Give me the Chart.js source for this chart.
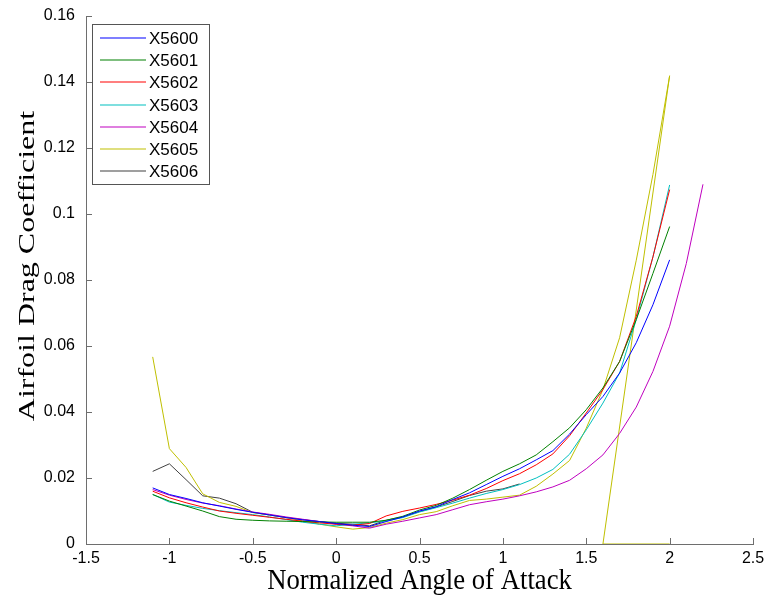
<!DOCTYPE html>
<html>
<head>
<meta charset="utf-8">
<script src="https://cdn.jsdelivr.net/npm/chart.js@4"></script>
<style>
  html, body { margin: 0; padding: 0; background: #fff; }
  canvas { display: block; }
</style>
</head>
<body>
<canvas id="dragChart" width="772" height="601"></canvas>
<script>
// normalized angle of attack, sampled every 0.1
const angle = [
    -1.1, -1.0, -0.9, -0.8, -0.7, -0.6, -0.5, -0.4, -0.3, -0.2, -0.1,
    0.0, 0.1, 0.2, 0.3, 0.4, 0.5, 0.6, 0.7, 0.8, 0.9, 1.0,
    1.1, 1.2, 1.3, 1.4, 1.5, 1.6, 1.7, 1.8, 1.9, 2.0, 2.1, 2.2
];

// drag coefficient per airfoil
const x5600 = [0.0170, 0.0150, 0.0138, 0.0125, 0.0115, 0.0105, 0.0096, 0.0088, 0.0080, 0.0073, 0.0068,
    0.0062, 0.0057, 0.0053, 0.0068, 0.0082, 0.0100, 0.0113, 0.0135, 0.0155, 0.0180, 0.0205,
    0.0228, 0.0255, 0.0283, 0.0333, 0.0392, 0.0447, 0.0518, 0.0610, 0.0725, 0.0861];
const x5601 = [0.0150, 0.0130, 0.0115, 0.0100, 0.0083, 0.0075, 0.0072, 0.0070, 0.0069, 0.0068, 0.0067,
    0.0066, 0.0066, 0.0066, 0.0072, 0.0084, 0.0103, 0.0117, 0.0139, 0.0165, 0.0193, 0.0220,
    0.0243, 0.0270, 0.0310, 0.0352, 0.0407, 0.0473, 0.0553, 0.0680, 0.0820, 0.0962];
const x5602 = [0.0160, 0.0140, 0.0125, 0.0112, 0.0100, 0.0093, 0.0087, 0.0081, 0.0075, 0.0069, 0.0064,
    0.0060, 0.0057, 0.0062, 0.0085, 0.0099, 0.0109, 0.0120, 0.0133, 0.0148, 0.0168, 0.0192,
    0.0213, 0.0240, 0.0273, 0.0328, 0.0397, 0.0468, 0.0553, 0.0690, 0.0870, 0.1074];
const x5603 = [0.0150, 0.0127, 0.0117, 0.0108, 0.0101, 0.0095, 0.0089, 0.0082, 0.0074, 0.0066, 0.0060,
    0.0055, 0.0060, 0.0064, 0.0070, 0.0080, 0.0097, 0.0110, 0.0124, 0.0139, 0.0153, 0.0165,
    0.0180, 0.0200, 0.0226, 0.0272, 0.0346, 0.0427, 0.0518, 0.0680, 0.0870, 0.1088];
const x5604 = [0.0165, 0.0148, 0.0135, 0.0124, 0.0116, 0.0106, 0.0097, 0.0090, 0.0082, 0.0075, 0.0068,
    0.0060, 0.0055, 0.0048, 0.0060, 0.0069, 0.0079, 0.0089, 0.0104, 0.0119, 0.0128, 0.0136,
    0.0146, 0.0158, 0.0173, 0.0193, 0.0228, 0.0270, 0.0335, 0.0415, 0.0523, 0.0660, 0.0850, 0.1090];
const x5605 = [0.0567, 0.0289, 0.0232, 0.0152, 0.0126, 0.0114, 0.0095, 0.0088, 0.0080, 0.0070, 0.0060,
    0.0052, 0.0045, 0.0050, 0.0063, 0.0074, 0.0089, 0.0098, 0.0116, 0.0132, 0.0136, 0.0142,
    0.0148, 0.0175, 0.0212, 0.0253, 0.0351, 0.0468, 0.0625, 0.0860, 0.1120, 0.1419];
// X5605 drops back to zero after the last point
const x5605TailAngle = [1.6, 2.0];
const x5605Tail = [0, 0];
const x5606 = [0.0220, 0.0243, 0.0195, 0.0146, 0.0139, 0.0122, 0.0096, 0.0088, 0.0080, 0.0074, 0.0068,
    0.0063, 0.0060, 0.0055, 0.0072, 0.0082, 0.0098, 0.0112, 0.0129, 0.0147, 0.0160, 0.0167,
    0.0182];

const seriesNames = ["X5600", "X5601", "X5602", "X5603", "X5604", "X5605", "X5606"];
const xTicks = [-1.5, -1, -0.5, 0, 0.5, 1, 1.5, 2, 2.5];
const yTicks = [0, 0.02, 0.04, 0.06, 0.08, 0.1, 0.12, 0.14, 0.16];
const xTitle = "Normalized Angle of Attack";
const yTitle = "Airfoil Drag Coefficient";

// matlab default line colours
const colors = ["#0000ff", "#008000", "#ff0000", "#00bfbf", "#bf00bf", "#bfbf00", "#404040"];

function toPoints(xs, ys) {
    return ys.map((y, i) => ({ x: xs[i], y: y }));
}

const yellowPoints = toPoints(angle, x5605).concat(toPoints(x5605TailAngle, x5605Tail));
const allSeries = [
    toPoints(angle, x5600),
    toPoints(angle, x5601),
    toPoints(angle, x5602),
    toPoints(angle, x5603),
    toPoints(angle, x5604),
    yellowPoints,
    toPoints(angle, x5606),
];

const data = {
    datasets: allSeries.map((pts, i) => ({
        label: seriesNames[i],
        data: pts,
        borderColor: colors[i],
        backgroundColor: colors[i],
        borderWidth: 1,
        showLine: true,
        pointRadius: 0,
        tension: 0,
        fill: false,
    })),
};

const axisColor = "#6e6e6e";
const tickFont = { family: "'Liberation Sans', Arial, sans-serif", size: 16 };
const serif = "'Liberation Serif', 'Times New Roman', serif";

// ticks point into the plot, like matlab axes
const innerTicks = {
    id: "innerTicks",
    afterDraw(chart) {
        const { ctx, chartArea, scales } = chart;
        ctx.save();
        ctx.strokeStyle = axisColor;
        ctx.lineWidth = 1;
        ctx.beginPath();
        scales.x.ticks.forEach(t => {
            const px = Math.round(scales.x.getPixelForValue(t.value)) + 0.5;
            ctx.moveTo(px, chartArea.bottom);
            ctx.lineTo(px, chartArea.bottom - 6);
        });
        scales.y.ticks.forEach(t => {
            const py = Math.round(scales.y.getPixelForValue(t.value)) + 0.5;
            ctx.moveTo(chartArea.left, py);
            ctx.lineTo(chartArea.left + 6, py);
        });
        ctx.stroke();
        ctx.restore();
    },
};

// serif axis titles, slightly narrowed glyphs
const axisTitles = {
    id: "axisTitles",
    afterDraw(chart) {
        const { ctx, chartArea } = chart;
        ctx.save();
        ctx.fillStyle = "#000";
        ctx.textAlign = "center";
        ctx.textBaseline = "alphabetic";
        ctx.font = "30px " + serif;
        ctx.translate((chartArea.left + chartArea.right) / 2, 589);
        ctx.scale(0.89, 1);
        ctx.fillText(xTitle, 0, 0);
        ctx.restore();

        ctx.save();
        ctx.fillStyle = "#000";
        ctx.textAlign = "center";
        ctx.textBaseline = "alphabetic";
        ctx.font = "32px " + serif;
        ctx.translate(34, (chartArea.top + chartArea.bottom) / 2 - 14);
        ctx.rotate(-Math.PI / 2);
        ctx.scale(1, 0.75);
        ctx.fillText(yTitle, 0, 0);
        ctx.restore();
    },
};

// boxed legend in the upper left corner of the axes
const boxLegend = {
    id: "boxLegend",
    afterDraw(chart) {
        const { ctx, chartArea } = chart;
        const left = Math.round(chartArea.left) + 6;
        const top = Math.round(chartArea.top) + 8;
        const w = 117, h = 160, rowH = 22.2;
        ctx.save();
        ctx.fillStyle = "#fff";
        ctx.fillRect(left, top, w, h);
        ctx.strokeStyle = "#555";
        ctx.lineWidth = 1;
        ctx.strokeRect(left + 0.5, top + 0.5, w, h);
        ctx.font = "17px 'Liberation Sans', Arial, sans-serif";
        ctx.textBaseline = "middle";
        chart.data.datasets.forEach((ds, i) => {
            const y = Math.round(top + 14 + i * rowH);
            // sample line straddles two pixel rows, as the plotted lines do
            ctx.strokeStyle = ds.borderColor;
            ctx.lineWidth = 1.2;
            ctx.beginPath();
            ctx.moveTo(left + 8, y);
            ctx.lineTo(left + 54, y);
            ctx.stroke();
            ctx.fillStyle = "#000";
            ctx.fillText(ds.label, left + 57, y + 1);
        });
        ctx.restore();
    },
};

const config = {
    type: "scatter",
    data: data,
    options: {
        responsive: false,
        animation: false,
        layout: { padding: { top: 16, right: 19, left: 0, bottom: 0 } },
        plugins: {
            legend: { display: false },
            tooltip: { enabled: false },
        },
        scales: {
            x: {
                type: "linear",
                min: -1.5,
                max: 2.5,
                afterBuildTicks: scale => { scale.ticks = xTicks.map(v => ({ value: v })); },
                afterFit: scale => { scale.height = 57; },
                grid: { display: false },
                border: { color: axisColor, width: 1 },
                ticks: {
                    color: "#000",
                    font: tickFont,
                    padding: -3,
                    maxRotation: 0,
                    autoSkip: false,
                    callback: v => String(v),
                },
            },
            y: {
                type: "linear",
                min: 0,
                max: 0.16,
                afterBuildTicks: scale => { scale.ticks = yTicks.map(v => ({ value: v })); },
                afterFit: scale => { scale.width = 86; },
                grid: { display: false },
                border: { color: axisColor, width: 1 },
                ticks: {
                    color: "#000",
                    font: tickFont,
                    padding: 3,
                    autoSkip: false,
                    callback: v => String(v),
                },
            },
        },
    },
    plugins: [innerTicks, axisTitles, boxLegend],
};

const ctx = document.getElementById("dragChart").getContext("2d");
const dragChart = new Chart(ctx, config);
</script>
</body>
</html>
